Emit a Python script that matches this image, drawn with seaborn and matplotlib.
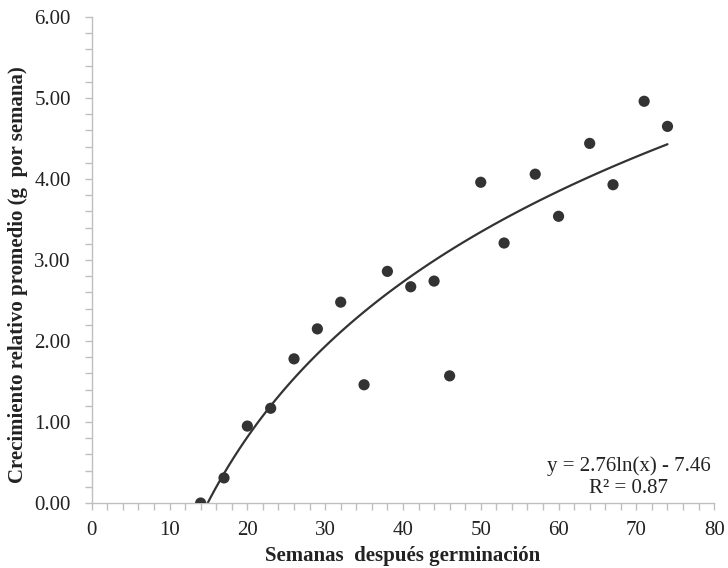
import numpy as np
import pandas as pd
import matplotlib
matplotlib.use("Agg")
import matplotlib.pyplot as plt
import seaborn as sns
from matplotlib.ticker import MultipleLocator, FormatStrFormatter

# --- Data ---
semanas = [14, 17, 20, 23, 26, 29, 32, 35, 38, 41, 44, 46, 50, 53, 57, 60, 64, 67, 71, 74]
crecimiento = [0.00, 0.31, 0.95, 1.17, 1.78, 2.15, 2.48, 1.46, 2.86, 2.67,
               2.74, 1.57, 3.96, 3.21, 4.06, 3.54, 4.44, 3.93, 4.96, 4.65]
ecuacion = "y = 2.76ln(x) - 7.46"
r2_texto = "R² = 0.87"

df = pd.DataFrame({"semanas": semanas, "crecimiento": crecimiento})

# --- Style ---
sns.set_style("white")
plt.rcParams["font.family"] = ["Liberation Serif", "DejaVu Serif"]
gris = "#bfbfbf"
oscuro = "#333333"
texto = "#222222"

fig = plt.figure(figsize=(7.28, 5.68), dpi=100)
ax = fig.add_axes([0.126, 0.1144, 0.855, 0.8556])

# puntos
sns.scatterplot(data=df, x="semanas", y="crecimiento", ax=ax, color=oscuro,
                s=65, edgecolor="none", zorder=3)
# linea de tendencia logaritmica
sns.regplot(data=df, x="semanas", y="crecimiento", ax=ax, logx=True, ci=None,
            scatter=False, line_kws={"color": oscuro, "lw": 1.6})

ax.set_xlim(0, 80)
ax.set_ylim(0, 6)
ax.xaxis.set_major_locator(MultipleLocator(10))
ax.xaxis.set_minor_locator(MultipleLocator(2))
ax.yaxis.set_major_locator(MultipleLocator(1))
ax.yaxis.set_minor_locator(MultipleLocator(0.2))
ax.yaxis.set_major_formatter(FormatStrFormatter("%.2f"))

for s in ["top", "right"]:
    ax.spines[s].set_visible(False)
for s in ["left", "bottom"]:
    ax.spines[s].set_color(gris)
    ax.spines[s].set_linewidth(1.0)

ax.tick_params(which="both", direction="out", color=gris, width=1.0, length=5,
               left=True, bottom=True)
ax.tick_params(which="major", labelsize=15, labelcolor=texto)
ax.tick_params(axis="y", which="major", pad=10)
ax.tick_params(axis="x", which="major", pad=8)

ax.set_xlabel("Semanas  después germinación", fontsize=15, fontweight="bold",
              color=texto, labelpad=4)
ax.set_ylabel("Crecimiento relativo promedio (g  por semana)", fontsize=15,
              fontweight="bold", color=texto)
ax.yaxis.set_label_coords(-0.103, 0.47)

ax.text(69.0, 0.45, ecuacion, ha="center", va="center", fontsize=15, color=texto)
ax.text(69.0, 0.18, r2_texto, ha="center", va="center", fontsize=15, color=texto)

fig.savefig("out.png", dpi=100)
